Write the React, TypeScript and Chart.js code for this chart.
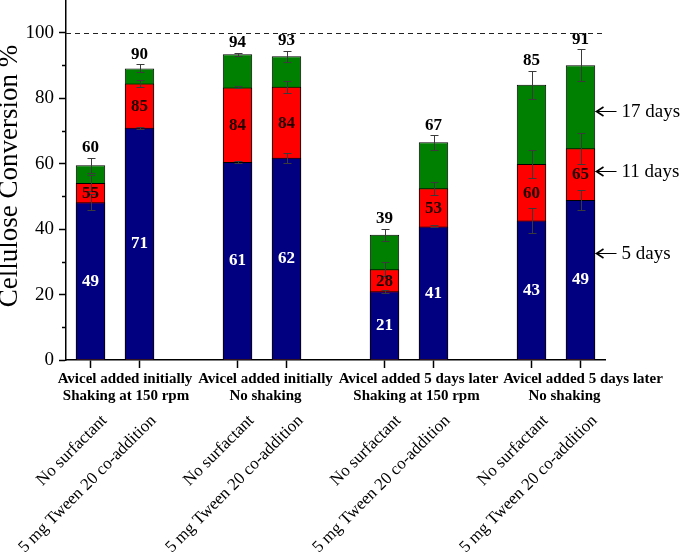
import { useEffect, useRef } from "react";
import { Chart, registerables } from "chart.js";

Chart.register(...registerables);

// ---- data ----
const categories = [
  "No surfactant",
  "5 mg Tween 20 co-addition",
  "No surfactant",
  "5 mg Tween 20 co-addition",
  "No surfactant",
  "5 mg Tween 20 co-addition",
  "No surfactant",
  "5 mg Tween 20 co-addition",
];
const groupLine1 = [
  "Avicel added initially",
  "Avicel added initially",
  "Avicel added 5 days later",
  "Avicel added 5 days later",
];
const groupLine2 = ["Shaking at 150 rpm", "No shaking", "Shaking at 150 rpm", "No shaking"];

// cumulative conversion (%) after 5, 11 and 17 days
const day5 = [48.2, 71.0, 60.5, 61.8, 21.0, 40.8, 42.6, 48.9];
const day11 = [54.1, 84.5, 83.3, 83.5, 27.7, 52.5, 59.9, 64.7];
const day17 = [59.5, 89.1, 93.4, 92.8, 38.3, 66.5, 84.1, 90.1];
const err5 = [2.5, 0.3, 0.3, 1.5, 0.5, 0.3, 3.8, 3.1];
const err11 = [2.5, 1.2, 0.3, 1.9, 2.1, 2.0, 4.4, 4.7];
const err17 = [2.3, 1.2, 0.4, 1.7, 1.8, 2.2, 4.3, 4.8];
const label5 = [49, 71, 61, 62, 21, 41, 43, 49];
const label11 = [55, 85, 84, 84, 28, 53, 60, 65];
const label17 = [60, 90, 94, 93, 39, 67, 85, 91];
const seriesNames = ["5 days", "11 days", "17 days"];
const yTicks = [0, 20, 40, 60, 80, 100];
const yMinorTicks = [10, 30, 50, 70, 90];

// x slots: two bars per group, one empty slot between groups
const slotLabels: string[] = [];
const barSlot: number[] = [];
categories.forEach((c, i) => {
  barSlot.push(slotLabels.length);
  slotLabels.push(c);
  if (i % 2 === 1 && i < categories.length - 1) slotLabels.push("");
});
const toSlots = (arr: number[]) => {
  const out: (number | null)[] = slotLabels.map(() => null);
  barSlot.forEach((s, i) => (out[s] = arr[i]));
  return out;
};

const SERIF = '"Liberation Serif", "Times New Roman", serif';

const overlay = {
  id: "overlay",
  afterDatasetsDraw(chart: any) {
    const { ctx, chartArea, scales } = chart;
    const x = scales.x;
    const y = scales.y;
    ctx.save();
    // dashed reference line at 100
    const y100 = Math.round(y.getPixelForValue(100)) + 0.5;
    ctx.strokeStyle = "#222";
    ctx.lineWidth = 1;
    ctx.setLineDash([5, 4]);
    ctx.beginPath();
    ctx.moveTo(chartArea.left, y100);
    ctx.lineTo(chartArea.right, y100);
    ctx.stroke();
    ctx.setLineDash([]);

    // error bars
    const series: [number[], number[]][] = [
      [day5, err5],
      [day11, err11],
      [day17, err17],
    ];
    ctx.strokeStyle = "#3a3a3a";
    ctx.lineWidth = 1;
    barSlot.forEach((slot, i) => {
      const px = Math.round(x.getPixelForValue(slot)) + 0.5;
      series.forEach(([v, e]) => {
        const t = Math.round(y.getPixelForValue(v[i] + e[i])) + 0.5;
        const b = Math.round(y.getPixelForValue(v[i] - e[i])) + 0.5;
        ctx.beginPath();
        ctx.moveTo(px, t);
        ctx.lineTo(px, b);
        ctx.moveTo(px - 4, t);
        ctx.lineTo(px + 4, t);
        ctx.moveTo(px - 4, b);
        ctx.lineTo(px + 4, b);
        ctx.stroke();
      });
    });

    // value labels
    ctx.textAlign = "center";
    ctx.textBaseline = "middle";
    ctx.font = `bold 17px ${SERIF}`;
    barSlot.forEach((slot, i) => {
      const px = x.getPixelForValue(slot);
      ctx.fillStyle = "#ffffff";
      ctx.fillText(String(label5[i]), px, y.getPixelForValue(day5[i] / 2));
      ctx.fillStyle = "#200000";
      ctx.fillText(String(label11[i]), px, y.getPixelForValue((day5[i] + day11[i]) / 2) + 1);
      ctx.fillStyle = "#000000";
      ctx.fillText(String(label17[i]), px, y.getPixelForValue(day17[i] + err17[i]) - 10);
    });

    // minor y ticks
    ctx.strokeStyle = "#000";
    ctx.lineWidth = 1.5;
    yMinorTicks.forEach((v) => {
      const py = Math.round(y.getPixelForValue(v)) + 0.5;
      ctx.beginPath();
      ctx.moveTo(chartArea.left - 4, py);
      ctx.lineTo(chartArea.left, py);
      ctx.stroke();
    });

    // series annotations with arrows (pointing at last bar)
    const lastIdx = barSlot.length - 1;
    const lastPx = x.getPixelForValue(barSlot[lastIdx]);
    const tipX = lastPx + 15;
    const annY = [
      (day17[lastIdx] + day11[lastIdx]) / 2 - 1.3,
      (day11[lastIdx] + day5[lastIdx]) / 2 + 0.9,
      day5[lastIdx] * 0.67,
    ];
    const annNames = [seriesNames[2], seriesNames[1], seriesNames[0]];
    ctx.font = `19px ${SERIF}`;
    ctx.textAlign = "left";
    ctx.fillStyle = "#000";
    ctx.strokeStyle = "#000";
    ctx.lineWidth = 1;
    annY.forEach((v, k) => {
      const py = Math.round(y.getPixelForValue(v)) + 0.5;
      ctx.beginPath();
      ctx.moveTo(tipX, py);
      ctx.lineTo(tipX + 21, py);
      ctx.stroke();
      ctx.beginPath();
      ctx.moveTo(tipX + 8, py - 4.5);
      ctx.lineTo(tipX + 1, py);
      ctx.lineTo(tipX + 8, py + 4.5);
      ctx.lineWidth = 1.6;
      ctx.stroke();
      ctx.lineWidth = 1;
      ctx.fillText(annNames[k], tipX + 26, py + 1);
    });

    // x labels: group captions
    const off1 = [10, 3.5, 9.5, 27];
    const off2 = [11, 3.5, 7.5, 8.5];
    ctx.textAlign = "center";
    ctx.font = `bold 15px ${SERIF}`;
    groupLine1.forEach((g, k) => {
      const mid = (x.getPixelForValue(barSlot[2 * k]) + x.getPixelForValue(barSlot[2 * k + 1])) / 2;
      ctx.fillText(g, mid + off1[k], chartArea.bottom + 19);
      ctx.fillText(groupLine2[k], mid + off2[k], chartArea.bottom + 36);
    });

    // x labels: rotated category names
    ctx.font = `17px ${SERIF}`;
    ctx.textAlign = "right";
    barSlot.forEach((slot, i) => {
      const px = x.getPixelForValue(slot);
      ctx.save();
      ctx.translate(px + 14, chartArea.bottom + 58);
      ctx.rotate(-Math.PI / 4);
      ctx.fillText(categories[i], 0, 0);
      ctx.restore();
    });

    // y title
    ctx.save();
    ctx.translate(16.5, (chartArea.top + chartArea.bottom) / 2 - 4);
    ctx.rotate(-Math.PI / 2);
    ctx.font = `27px ${SERIF}`;
    ctx.textAlign = "center";
    ctx.textBaseline = "alphabetic";
    ctx.fillText("Cellulose Conversion %", 0, 0);
    ctx.restore();

    ctx.restore();
  },
};

export default function App() {
  const ref = useRef<HTMLCanvasElement | null>(null);
  useEffect(() => {
    document.body.style.margin = "0";
    const canvas = ref.current;
    if (!canvas) return;
    Chart.defaults.font.family = SERIF;
    const colors = ["#000080", "#ff0000", "#008000"];
    const chart = new Chart(canvas, {
      type: "bar",
      data: {
        labels: slotLabels,
        datasets: [day5, day11, day17].map((d, k) => ({
          label: seriesNames[k],
          data: toSlots(d),
          backgroundColor: colors[k],
          borderColor: "#000000",
          borderWidth: 1,
          barPercentage: 0.6,
          categoryPercentage: 1,
          grouped: false,
        })),
      },
      options: {
        animation: false,
        responsive: false,
        devicePixelRatio: 1,
        layout: { padding: { left: 0, right: 80, top: 0, bottom: 0 } },
        plugins: { legend: { display: false }, tooltip: { enabled: false } },
        scales: {
          x: {
            offset: true,
            grid: {
              offset: false,
              drawOnChartArea: false,
              drawTicks: true,
              tickLength: 8,
              tickWidth: 1.5,
              tickColor: (c: any) => (slotLabels[c.index] ? "#000" : "rgba(0,0,0,0)"),
            },
            border: { color: "#000", width: 1.5 },
            ticks: { display: false },
            afterFit: (s: any) => {
              s.height = 192;
              s.paddingLeft = 0;
              s.paddingRight = 0;
            },
          },
          y: {
            min: 0,
            max: 110,
            grid: { drawOnChartArea: false, tickLength: 7, tickWidth: 1.5, tickColor: "#000" },
            border: { color: "#000", width: 1.5 },
            ticks: { color: "#000", font: { size: 19, family: SERIF }, padding: 5 },
            afterBuildTicks: (s: any) => {
              s.ticks = yTicks.map((v) => ({ value: v }));
            },
            afterFit: (s: any) => {
              s.width = 66;
              s.paddingTop = 0;
              s.paddingBottom = 0;
            },
          },
        },
      },
      plugins: [overlay],
    });
    return () => chart.destroy();
  }, []);
  return <canvas ref={ref} width={685} height={552} style={{ display: "block" }} />;
}
